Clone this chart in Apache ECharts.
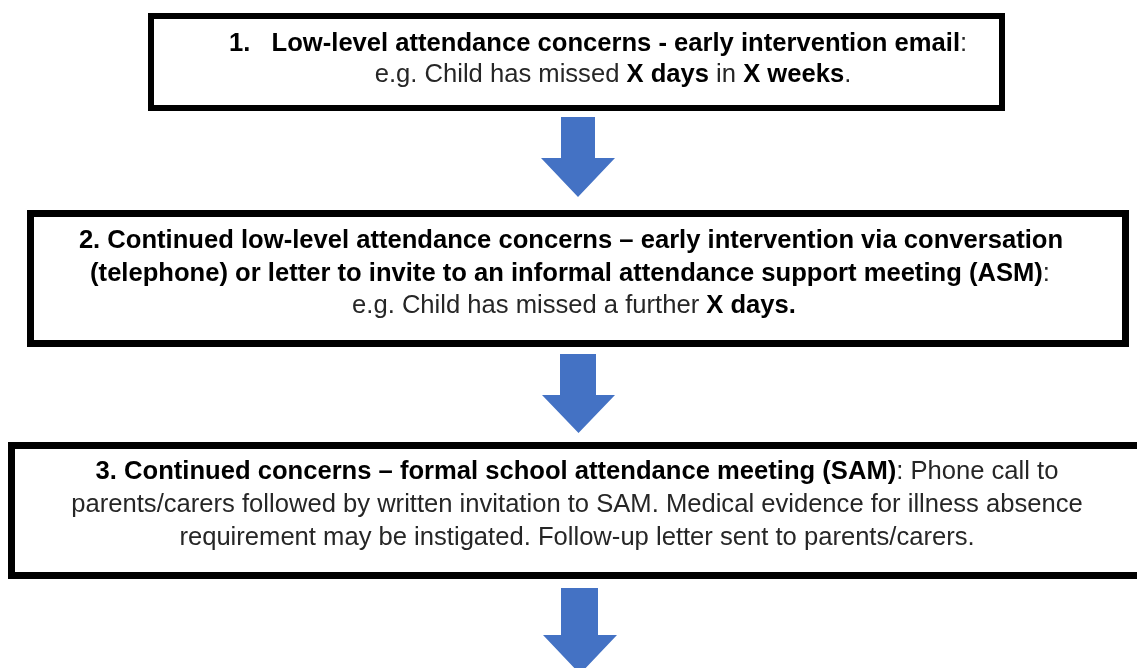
<!DOCTYPE html>
<html>
<head>
<meta charset="utf-8">
<title>Attendance flow</title>
<script src="https://cdn.jsdelivr.net/npm/echarts@6/dist/echarts.min.js"></script>
<style>
  html, body { margin: 0; padding: 0; background: #fff; }
  #main { width: 1137px; height: 668px; }
</style>
</head>
<body>
<div id="main"></div>
<script>
// text of each step, one array per line: [style, text] pieces (b = bold, n = normal)
var step1Lines = [
    [['b', '1.   Low-level attendance concerns - early intervention email'], ['n', ':']],
    [['n', 'e.g. Child has missed '], ['b', 'X days'], ['n', ' in '], ['b', 'X weeks'], ['n', '.']]
];
var step2Lines = [
    [['b', '2. Continued low-level attendance concerns \u2013 early intervention via conversation']],
    [['b', '(telephone) or letter to invite to an informal attendance support meeting (ASM)'], ['n', ':']],
    [['n', 'e.g. Child has missed a further '], ['b', 'X days.']]
];
var step3Lines = [
    [['b', '3. Continued concerns \u2013 formal school attendance meeting (SAM)'], ['n', ': Phone call to']],
    [['n', 'parents/carers followed by written invitation to SAM. Medical evidence for illness absence']],
    [['n', 'requirement may be instigated. Follow-up letter sent to parents/carers.']]
];
var steps = [step1Lines, step2Lines, step3Lines];

// layout (pixels)
var boxes = [
    { x: 151, y: 16, w: 851, h: 92, lw: 6, lineY: [44, 75] },
    { x: 30.5, y: 213.5, w: 1095, h: 130, lw: 7, lineY: [241, 274, 306] },
    { x: 11.5, y: 445.5, w: 1140, h: 130, lw: 7, lineY: [472, 505, 538] }
];
var lineCenters = [[598, 613], [571, 570, 574], [577, 577, 577]];
var arrows = [
    { x1: 561, x2: 595, top: 117, neck: 158, hx1: 541, hx2: 615, tip: 197 },
    { x1: 560, x2: 596, top: 354, neck: 395, hx1: 542, hx2: 615, tip: 433 },
    { x1: 561, x2: 598, top: 588, neck: 635, hx1: 543, hx2: 617, tip: 674 }
];

var fontFamily = '"Liberation Sans", Arial, sans-serif';
var fontSize = 25.6;
var rich = {
    b: { fontFamily: fontFamily, fontSize: fontSize, fontWeight: 'bold', fill: '#000' },
    n: { fontFamily: fontFamily, fontSize: fontSize, fontWeight: 'normal', fill: '#262626' }
};

var elements = [];
boxes.forEach(function (b, i) {
    elements.push({
        type: 'rect',
        shape: { x: b.x, y: b.y, width: b.w, height: b.h },
        style: { fill: '#fff', stroke: '#000', lineWidth: b.lw }
    });
    steps[i].forEach(function (line, j) {
        var txt = line.map(function (p) {
            return '{' + p[0] + '|' + p[1] + '}';
        }).join('');
        elements.push({
            type: 'text',
            x: lineCenters[i][j],
            y: b.lineY[j],
            style: {
                text: txt,
                rich: rich,
                align: 'center',
                verticalAlign: 'middle'
            }
        });
    });
});
arrows.forEach(function (a) {
    var mid = (a.hx1 + a.hx2) / 2;
    elements.push({
        type: 'polygon',
        shape: {
            points: [
                [a.x1, a.top], [a.x2, a.top], [a.x2, a.neck], [a.hx2, a.neck],
                [mid, a.tip], [a.hx1, a.neck], [a.x1, a.neck]
            ]
        },
        style: { fill: '#4472C4' }
    });
});

var myChart = echarts.init(document.getElementById('main'));
var option = {
    backgroundColor: '#fff',
    animation: false,
    graphic: { elements: elements }
};
myChart.setOption(option);
</script>
</body>
</html>
